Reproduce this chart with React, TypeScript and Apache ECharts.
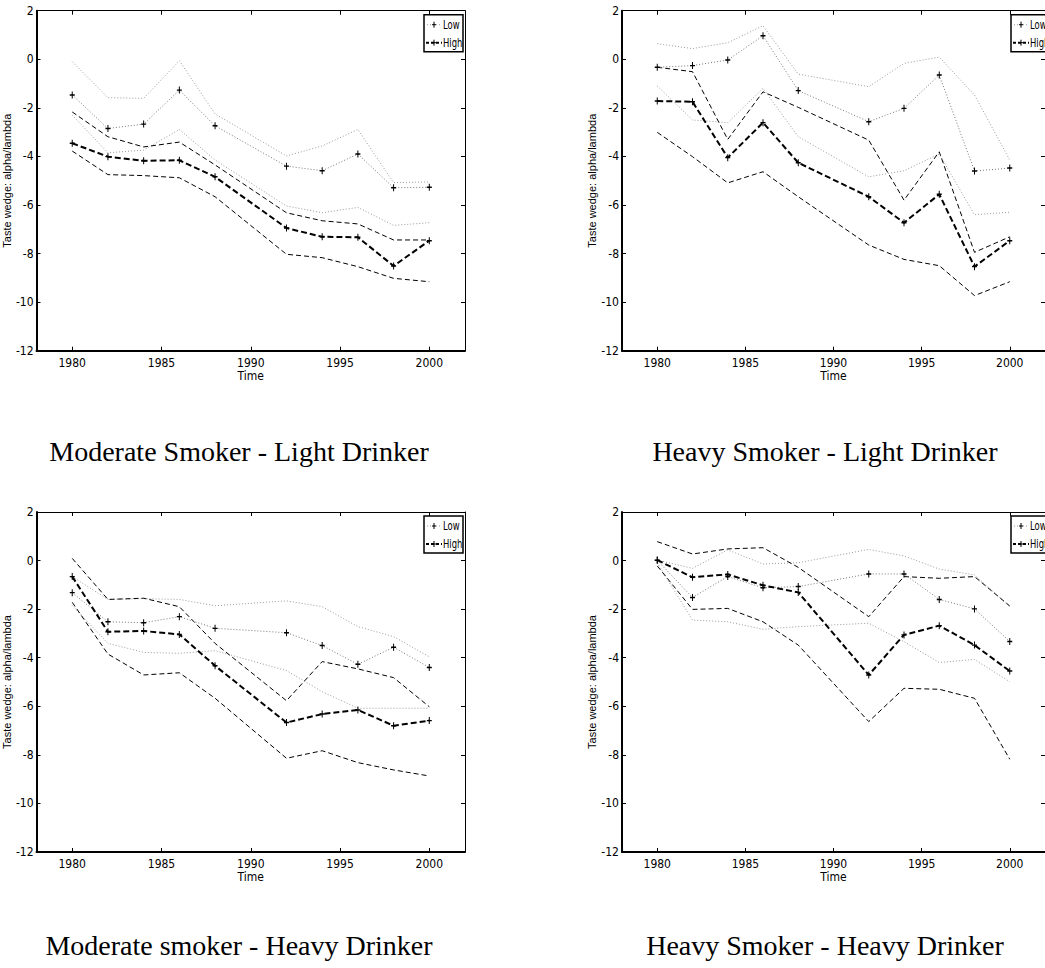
import React, { useEffect, useRef } from "react";
import * as echarts from "echarts";

// ---------- data ----------
const years = [1980, 1982, 1984, 1986, 1988, 1992, 1994, 1996, 1998, 2000];
const xTicks = [1980, 1985, 1990, 1995, 2000];

// Moderate Smoker - Light Drinker
const lowEst1 = [-1.47, -2.85, -2.67, -1.27, -2.74, -4.4, -4.59, -3.9, -5.29, -5.27];
const lowUp1 = [-0.1, -1.58, -1.61, -0.06, -2.25, -3.98, -3.57, -2.89, -5.08, -5.05];
const lowLo1 = [-2.3, -3.85, -3.74, -2.89, -4.15, -6.04, -6.32, -6.1, -6.84, -6.73];
const highEst1 = [-3.46, -4.01, -4.18, -4.16, -4.84, -6.95, -7.31, -7.33, -8.51, -7.47];
const highUp1 = [-2.17, -3.19, -3.61, -3.41, -4.35, -6.32, -6.65, -6.78, -7.44, -7.44];
const highLo1 = [-3.78, -4.75, -4.79, -4.88, -5.66, -8.03, -8.17, -8.54, -9.02, -9.16];

// Heavy Smoker - Light Drinker
const lowEst2 = [-0.33, -0.26, -0.03, 0.97, -1.29, -2.57, -2.02, -0.65, -4.6, -4.48];
const lowUp2 = [0.64, 0.44, 0.68, 1.38, -0.61, -1.13, -0.17, 0.09, -1.47, -4.15];
const lowLo2 = [-1.1, -2.5, -2.61, -1.2, -3.19, -4.84, -4.59, -3.9, -6.4, -6.3];
const highEst2 = [-1.72, -1.75, -4.05, -2.61, -4.26, -5.66, -6.73, -5.56, -8.54, -7.47];
const highUp2 = [-0.33, -0.51, -3.3, -1.34, -1.98, -3.33, -5.8, -3.81, -7.95, -7.31];
const highLo2 = [-3.01, -4.01, -5.09, -4.63, -5.66, -7.65, -8.24, -8.5, -9.73, -9.16];

// Moderate smoker - Heavy Drinker
const lowEst3 = [-1.32, -2.52, -2.56, -2.31, -2.79, -2.97, -3.5, -4.27, -3.57, -4.4];
const lowUp3 = [-0.66, -1.6, -1.57, -1.6, -1.86, -1.66, -1.9, -2.72, -3.13, -3.96];
const lowLo3 = [-1.85, -3.41, -3.78, -3.82, -3.71, -4.53, -5.4, -6.08, -6.08, -6.08];
const highEst3 = [-0.66, -2.93, -2.9, -3.04, -4.33, -6.67, -6.32, -6.15, -6.8, -6.59];
const highUp3 = [0.09, -1.6, -1.55, -1.9, -3.41, -5.77, -4.16, -4.46, -4.82, -6.02];
const highLo3 = [-1.72, -3.85, -4.71, -4.62, -5.67, -8.14, -7.83, -8.32, -8.62, -8.87];

// Heavy Smoker - Heavy Drinker
const lowEst4 = [0.01, -1.52, -0.66, -1.12, -1.07, -0.55, -0.55, -1.6, -1.99, -3.33];
const lowUp4 = [0.02, -0.32, 0.44, -0.14, -0.09, 0.46, 0.19, -0.35, -0.59, -1.9];
const lowLo4 = [-0.09, -2.45, -2.52, -2.83, -2.72, -2.58, -3.34, -4.2, -4.07, -4.99];
const highEst4 = [0.02, -0.69, -0.57, -1.02, -1.31, -4.71, -3.06, -2.68, -3.48, -4.55];
const highUp4 = [0.78, 0.27, 0.48, 0.53, -0.28, -2.31, -0.66, -0.73, -0.66, -1.87];
const highLo4 = [-0.22, -2.01, -1.97, -2.52, -3.48, -6.63, -5.26, -5.3, -5.67, -8.18];

const captions = [
  "Moderate Smoker - Light Drinker",
  "Heavy Smoker - Light Drinker",
  "Moderate smoker - Heavy Drinker",
  "Heavy Smoker - Heavy Drinker",
];
const seriesNames = ["Low", "High"];
const yTitle = "Taste wedge: alpha/lambda";
const xTitle = "Time";

// ---------- layout / style ----------
const PW = 430;
const PH = 340;
const layout = [
  { left: 35, top: 10.7, capX: 239, capY: 451.5 },
  { left: 622, top: 10.7, capX: 825, capY: 451.5 },
  { left: 35, top: 512, capX: 239, capY: 945.5 },
  { left: 622, top: 512, capX: 825, capY: 945.5 },
];
const panelData = [
  { low: [lowEst1, lowUp1, lowLo1], high: [highEst1, highUp1, highLo1] },
  { low: [lowEst2, lowUp2, lowLo2], high: [highEst2, highUp2, highLo2] },
  { low: [lowEst3, lowUp3, lowLo3], high: [highEst3, highUp3, highLo3] },
  { low: [lowEst4, lowUp4, lowLo4], high: [highEst4, highUp4, highLo4] },
];

const NARROW = '"Liberation Sans Narrow", "Arial Narrow", "DejaVu Sans Condensed", sans-serif';
const SANS = '"Liberation Sans", Arial, Helvetica, sans-serif';
const SERIF = '"Liberation Serif", "Times New Roman", serif';
const PLUS = "path://M2,0L3,0L3,2L5,2L5,3L3,3L3,5L2,5L2,3L0,3L0,2L2,2Z";
const DOT = [1, 2];
const DASH = [5, 3];
const DOT_COLOR = "#9a9a9a";

const pts = (vals: number[]) => years.map((y, k) => [y, vals[k]]);

function buildOption() {
  const grid: any[] = [];
  const xAxis: any[] = [];
  const yAxis: any[] = [];
  const series: any[] = [];
  const graphic: any[] = [];

  layout.forEach((p, i) => {
    grid.push({ left: p.left, top: p.top, width: PW, height: PH, show: false });
    const tickCommon = { show: true, inside: true, length: 4, lineStyle: { color: "#000", width: 1 } };
    xAxis.push({
      gridIndex: i,
      type: "value",
      position: "bottom",
      min: 1978,
      max: 2002,
      name: xTitle,
      nameLocation: "middle",
      nameGap: 19,
      nameTextStyle: { fontFamily: NARROW, fontSize: 12, color: "#000" },
      axisLine: { show: true, onZero: false, lineStyle: { color: "#000", width: 2 } },
      axisTick: { ...tickCommon, customValues: xTicks },
      axisLabel: {
        show: true,
        customValues: xTicks,
        formatter: (v: number) => String(v),
        margin: 6,
        fontFamily: NARROW,
        fontSize: 12,
        color: "#000",
      },
      splitLine: { show: false },
    });
    xAxis.push({
      gridIndex: i,
      type: "value",
      position: "top",
      min: 1978,
      max: 2002,
      axisLine: { show: true, onZero: false, lineStyle: { color: "#000", width: 1 } },
      axisTick: { ...tickCommon, customValues: xTicks },
      axisLabel: { show: false },
      splitLine: { show: false },
    });
    yAxis.push({
      gridIndex: i,
      type: "value",
      position: "left",
      min: -12,
      max: 2,
      interval: 2,
      name: yTitle,
      nameLocation: "middle",
      nameGap: 21,
      nameTextStyle: { fontFamily: SANS, fontSize: 11, color: "#000" },
      axisLine: { show: true, onZero: false, lineStyle: { color: "#000", width: 2 } },
      axisTick: tickCommon,
      axisLabel: { show: true, margin: 3, fontFamily: NARROW, fontSize: 12, color: "#000" },
      splitLine: { show: false },
    });
    yAxis.push({
      gridIndex: i,
      type: "value",
      position: "right",
      min: -12,
      max: 2,
      interval: 2,
      axisLine: { show: true, onZero: false, lineStyle: { color: "#000", width: 1 } },
      axisTick: tickCommon,
      axisLabel: { show: false },
      splitLine: { show: false },
    });

    const xi = 2 * i;
    const yi = 2 * i;
    const d = panelData[i];
    const band = (vals: number[], name: string, lineStyle: any) => ({
      type: "line",
      name,
      xAxisIndex: xi,
      yAxisIndex: yi,
      data: pts(vals),
      symbol: "none",
      silent: true,
      lineStyle,
      emphasis: { disabled: true },
    });
    const est = (vals: number[], name: string, lineStyle: any) => ({
      type: "line",
      name,
      xAxisIndex: xi,
      yAxisIndex: yi,
      data: pts(vals),
      symbol: PLUS,
      symbolSize: [5, 7],
      showSymbol: true,
      silent: true,
      itemStyle: { color: "#000" },
      lineStyle,
      emphasis: { disabled: true },
      z: 3,
    });
    const lowBand = { color: DOT_COLOR, width: 1, type: DOT };
    const highBand = { color: "#000", width: 1, type: DASH };
    series.push(band(d.low[1], seriesNames[0], lowBand));
    series.push(band(d.low[2], seriesNames[0], lowBand));
    series.push(band(d.high[1], seriesNames[1], highBand));
    series.push(band(d.high[2], seriesNames[1], highBand));
    series.push(est(d.low[0], seriesNames[0], { color: "#777", width: 1, type: DOT }));
    series.push(est(d.high[0], seriesNames[1], { color: "#000", width: 2, type: [6, 3] }));

    // legend box
    const bx = p.left + PW - 2 - 39;
    const by = p.top + 4;
    const marker = (cx: number, cy: number) => [
      { type: "line", shape: { x1: cx, y1: cy - 3, x2: cx, y2: cy + 3 }, style: { stroke: "#000", lineWidth: 1 } },
      { type: "line", shape: { x1: cx - 2, y1: cy, x2: cx + 2, y2: cy }, style: { stroke: "#000", lineWidth: 1 } },
    ];
    graphic.push({
      type: "group",
      x: bx,
      y: by,
      silent: true,
      children: [
        { type: "rect", shape: { x: 0, y: 0, width: 39, height: 37 }, style: { fill: "#fff", stroke: "#000", lineWidth: 1.5 } },
        { type: "line", shape: { x1: 3, y1: 10, x2: 17, y2: 10 }, style: { stroke: DOT_COLOR, lineWidth: 1, lineDash: DOT } },
        ...marker(10, 10),
        {
          type: "text",
          x: 19,
          y: 10,
          scaleX: 0.78,
          style: { text: seriesNames[0], font: `12px ${NARROW}`, fill: "#000", verticalAlign: "middle", align: "left" },
        },
        { type: "line", shape: { x1: 2, y1: 28, x2: 18, y2: 28 }, style: { stroke: "#000", lineWidth: 2, lineDash: [3, 2] } },
        ...marker(10, 28),
        {
          type: "text",
          x: 19,
          y: 28,
          scaleX: 0.78,
          style: { text: seriesNames[1], font: `12px ${NARROW}`, fill: "#000", verticalAlign: "middle", align: "left" },
        },
      ],
    });
    graphic.push({
      type: "text",
      x: p.capX,
      y: p.capY,
      silent: true,
      style: { text: captions[i], font: `28px ${SERIF}`, fill: "#000", align: "center", verticalAlign: "middle" },
    });
  });

  return {
    animation: false,
    backgroundColor: "#fff",
    grid,
    xAxis,
    yAxis,
    series,
    graphic,
  };
}

export default function App() {
  const ref = useRef<HTMLDivElement>(null);
  useEffect(() => {
    if (!ref.current) return;
    const chart = echarts.init(ref.current, null, { renderer: "svg" });
    chart.setOption(buildOption() as any);
    return () => chart.dispose();
  }, []);
  return (
    <div
      ref={ref}
      style={{ position: "absolute", left: 0, top: 0, width: 1045, height: 968, background: "#fff" }}
    />
  );
}
